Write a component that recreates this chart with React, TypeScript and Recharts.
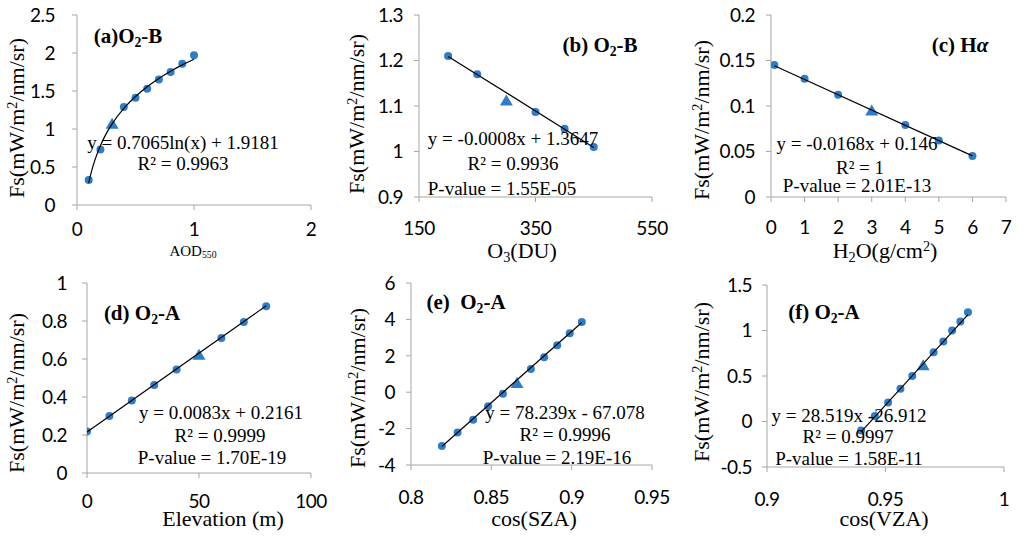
import React from 'react';
import { ScatterChart, Scatter, XAxis, YAxis } from 'recharts';

// ---------- data ----------
// (a) AOD550
const aodValues = [0.1, 0.2, 0.4, 0.5, 0.6, 0.7, 0.8, 0.9, 1.0];
const aodFs = [0.33, 0.73, 1.29, 1.41, 1.53, 1.65, 1.75, 1.86, 1.97];
const aodBase = { x: 0.3, y: 1.07 };
const aodTrendX = [0.1, 0.12, 0.15, 0.2, 0.25, 0.3, 0.4, 0.5, 0.6, 0.7, 0.8, 0.9, 1.0];
const aodTrendY = [0.291, 0.42, 0.578, 0.781, 0.939, 1.068, 1.271, 1.428, 1.557, 1.666, 1.76, 1.844, 1.918];
const aodXTicks = [0, 1, 2];
const aodYTicks = [0, 0.5, 1, 1.5, 2, 2.5];

// (b) O3
const o3Values = [200, 250, 350, 400, 450];
const o3Fs = [1.21, 1.17, 1.087, 1.05, 1.01];
const o3Base = { x: 300, y: 1.112 };
const o3TrendX = [200, 450];
const o3TrendY = [1.209, 1.009];
const o3XTicks = [150, 350, 550];
const o3YTicks = [0.9, 1, 1.1, 1.2, 1.3];

// (c) H2O
const h2oValues = [0.1, 1, 2, 4, 5, 6];
const h2oFs = [0.145, 0.13, 0.1125, 0.079, 0.062, 0.045];
const h2oBase = { x: 3, y: 0.095 };
const h2oTrendX = [0.1, 6];
const h2oTrendY = [0.1443, 0.0452];
const h2oXTicks = [0, 1, 2, 3, 4, 5, 6, 7];
const h2oYTicks = [0, 0.05, 0.1, 0.15, 0.2];

// (d) Elevation
const elevValues = [0, 10, 20, 30, 40, 60, 70, 80];
const elevFs = [0.218, 0.3, 0.381, 0.463, 0.545, 0.711, 0.795, 0.878];
const elevBase = { x: 50, y: 0.622 };
const elevTrendX = [0, 80];
const elevTrendY = [0.216, 0.88];
const elevXTicks = [0, 50, 100];
const elevYTicks = [0, 0.2, 0.4, 0.6, 0.8, 1];

// (e) cos(SZA)
const szaValues = [0.8192, 0.829, 0.8387, 0.848, 0.8572, 0.8746, 0.8829, 0.891, 0.8988, 0.9063];
const szaFs = [-2.96, -2.21, -1.52, -0.77, -0.09, 1.28, 1.92, 2.58, 3.24, 3.86];
const szaBase = { x: 0.866, y: 0.51 };
const szaTrendX = [0.8192, 0.9063];
const szaTrendY = [-2.985, 3.83];
const szaXTicks = [0.8, 0.85, 0.9, 0.95];
const szaYTicks = [-4, -2, 0, 2, 4, 6];

// (f) cos(VZA)
const vzaValues = [0.9397, 0.9455, 0.9511, 0.9563, 0.9613, 0.9703, 0.9744, 0.9781, 0.9816, 0.9848];
const vzaFs = [-0.1, 0.06, 0.21, 0.36, 0.5, 0.76, 0.88, 1.0, 1.1, 1.2];
const vzaBase = { x: 0.9659, y: 0.617 };
const vzaTrendX = [0.9397, 0.9848];
const vzaTrendY = [-0.113, 1.174];
const vzaXTicks = [0.9, 0.95, 1];
const vzaYTicks = [-0.5, 0, 0.5, 1, 1.5];

// ---------- styles ----------
const BLUE = '#2E7EC6';
const AXIS = '#A6A6A6';
const SERIF = '"Liberation Serif", "Times New Roman", serif';
const SANS = 'Lato, "Open Sans", sans-serif';

const zip = (xs: number[], ys: number[]) => xs.map((x, i) => ({ x, y: ys[i] }));

const CircleShape = (p: any) => <circle cx={p.cx} cy={p.cy} r={4} fill={BLUE} />;
const TriShape = (p: any) => (
  <polygon
    points={`${p.cx},${p.cy - 6} ${p.cx - 6.5},${p.cy + 5} ${p.cx + 6.5},${p.cy + 5}`}
    fill={BLUE}
  />
);
const EmptyShape = () => <g />;

type Rect = { x0: number; x1: number; y0: number; y1: number };

function Panel(props: {
  rect: Rect;
  xDomain: [number, number];
  yDomain: [number, number];
  xTicks: number[];
  yTicks: number[];
  circles: { x: number; y: number }[];
  triangle: { x: number; y: number };
  trend: { x: number; y: number }[];
  xGap: number;
  yGap: number;
  curved?: boolean;
}) {
  const { rect } = props;
  const YW = 70;
  const TOP = 20;
  const RIGHT = 30;
  const XH = 50;
  const width = rect.x1 - rect.x0 + YW + RIGHT;
  const height = rect.y1 - rect.y0 + TOP + XH;
  const tickStyle = { fill: '#000', fontSize: 19, fontFamily: SANS, letterSpacing: -0.5 };
  return (
    <div style={{ position: 'absolute', left: rect.x0 - YW, top: rect.y0 - TOP }}>
      <ScatterChart width={width} height={height} margin={{ top: TOP, right: RIGHT, bottom: 0, left: 0 }}>
        <XAxis
          type="number"
          dataKey="x"
          domain={props.xDomain}
          ticks={props.xTicks}
          interval={0}
          allowDataOverflow
          height={XH}
          axisLine={{ stroke: AXIS }}
          tickLine={{ stroke: AXIS }}
          tickSize={5}
          tickMargin={props.xGap}
          tick={tickStyle}
        />
        <YAxis
          type="number"
          dataKey="y"
          domain={props.yDomain}
          ticks={props.yTicks}
          interval={0}
          allowDataOverflow
          width={YW}
          axisLine={{ stroke: AXIS }}
          tickLine={{ stroke: AXIS }}
          tickSize={5}
          tickMargin={props.yGap}
          tick={tickStyle}
        />
        <Scatter data={props.circles} shape={CircleShape} isAnimationActive={false} />
        <Scatter data={[props.triangle]} shape={TriShape} isAnimationActive={false} />
        <Scatter
          data={props.trend}
          shape={EmptyShape}
          line={{ stroke: '#000', strokeWidth: 1.2 }}
          lineJointType={props.curved ? 'monotoneX' : 'linear'}
          isAnimationActive={false}
        />
      </ScatterChart>
    </div>
  );
}

function T(props: { x: number; y: number; size: number; bold?: boolean; rotate?: boolean; children: React.ReactNode }) {
  return (
    <div
      style={{
        position: 'absolute',
        left: props.x,
        top: props.y,
        transform: `translate(-50%, -50%)${props.rotate ? ' rotate(-90deg)' : ''}`,
        whiteSpace: 'nowrap',
        fontFamily: SERIF,
        fontSize: props.size,
        fontWeight: props.bold ? 'bold' : 'normal',
        lineHeight: 1,
        color: '#000',
      }}
    >
      {props.children}
    </div>
  );
}

const Sub = ({ c }: { c: string }) => (
  <span style={{ fontSize: '0.65em', verticalAlign: '-0.3em', lineHeight: 0 }}>{c}</span>
);
const Sup = ({ c }: { c: string }) => (
  <span style={{ fontSize: '0.65em', verticalAlign: '0.5em', lineHeight: 0 }}>{c}</span>
);

const FsTitle = () => (
  <>
    Fs(mW/m<Sup c="2" />/nm/sr)
  </>
);

export default function App() {
  const EQ = 19;
  const LBL = 21;
  const AX = 22;
  return (
    <div style={{ position: 'absolute', left: 0, top: 0, width: 1024, height: 537, background: '#fff', overflow: 'hidden' }}>
      <Panel
        rect={{ x0: 77, x1: 311, y0: 15, y1: 205 }}
        xDomain={[0, 2]}
        yDomain={[0, 2.5]}
        xTicks={aodXTicks}
        yTicks={aodYTicks}
        circles={zip(aodValues, aodFs)}
        triangle={aodBase}
        trend={zip(aodTrendX, aodTrendY)}
        xGap={13}
        yGap={17}
        curved
      />
      <Panel
        rect={{ x0: 419, x1: 652, y0: 15, y1: 197 }}
        xDomain={[150, 550]}
        yDomain={[0.9, 1.3]}
        xTicks={o3XTicks}
        yTicks={o3YTicks}
        circles={zip(o3Values, o3Fs)}
        triangle={o3Base}
        trend={zip(o3TrendX, o3TrendY)}
        xGap={20}
        yGap={11}
      />
      <Panel
        rect={{ x0: 771, x1: 1006, y0: 15, y1: 197 }}
        xDomain={[0, 7]}
        yDomain={[0, 0.2]}
        xTicks={h2oXTicks}
        yTicks={h2oYTicks}
        circles={zip(h2oValues, h2oFs)}
        triangle={h2oBase}
        trend={zip(h2oTrendX, h2oTrendY)}
        xGap={19}
        yGap={11}
      />
      <Panel
        rect={{ x0: 87, x1: 311, y0: 283, y1: 473 }}
        xDomain={[0, 100]}
        yDomain={[0, 1]}
        xTicks={elevXTicks}
        yTicks={elevYTicks}
        circles={zip(elevValues, elevFs)}
        triangle={elevBase}
        trend={zip(elevTrendX, elevTrendY)}
        xGap={17}
        yGap={15}
      />
      <Panel
        rect={{ x0: 411, x1: 652, y0: 283, y1: 465 }}
        xDomain={[0.8, 0.95]}
        yDomain={[-4, 6]}
        xTicks={szaXTicks}
        yTicks={szaYTicks}
        circles={zip(szaValues, szaFs)}
        triangle={szaBase}
        trend={zip(szaTrendX, szaTrendY)}
        xGap={21}
        yGap={11}
      />
      <Panel
        rect={{ x0: 767, x1: 1004, y0: 285, y1: 467 }}
        xDomain={[0.9, 1]}
        yDomain={[-0.5, 1.5]}
        xTicks={vzaXTicks}
        yTicks={vzaYTicks}
        circles={zip(vzaValues, vzaFs)}
        triangle={vzaBase}
        trend={zip(vzaTrendX, vzaTrendY)}
        xGap={21}
        yGap={10}
      />

      {/* y axis titles */}
      <T x={17} y={118} size={AX} rotate><FsTitle /></T>
      <T x={357} y={114} size={AX} rotate><FsTitle /></T>
      <T x={702} y={120} size={AX} rotate><FsTitle /></T>
      <T x={17} y={393} size={AX} rotate><FsTitle /></T>
      <T x={358} y={388} size={AX} rotate><FsTitle /></T>
      <T x={702} y={382} size={AX} rotate><FsTitle /></T>

      {/* x axis titles */}
      <T x={193} y={251} size={15}>AOD<Sub c="550" /></T>
      <T x={522} y={251} size={AX}>O<Sub c="3" />(DU)</T>
      <T x={885} y={251} size={AX}>H<Sub c="2" />O(g/cm<Sup c="2" />)</T>
      <T x={223} y={519} size={AX}>Elevation (m)</T>
      <T x={534} y={519} size={AX}>cos(SZA)</T>
      <T x={884} y={519} size={AX}>cos(VZA)</T>

      {/* panel labels */}
      <T x={128} y={36} size={LBL} bold>(a)O<Sub c="2" />-B</T>
      <T x={600} y={45} size={LBL} bold>(b) O<Sub c="2" />-B</T>
      <T x={960} y={45} size={LBL} bold>(c) H<i>α</i></T>
      <T x={142} y={313} size={LBL} bold>(d) O<Sub c="2" />-A</T>
      <T x={466} y={302} size={LBL} bold>(e)&nbsp;&nbsp;O<Sub c="2" />-A</T>
      <T x={824} y={312} size={LBL} bold>(f) O<Sub c="2" />-A</T>

      {/* regression texts */}
      <T x={183} y={142} size={EQ}>y = 0.7065ln(x) + 1.9181</T>
      <T x={183} y={163} size={EQ}>R² = 0.9963</T>

      <T x={513} y={138} size={EQ}>y = -0.0008x + 1.3647</T>
      <T x={513} y={163} size={EQ}>R² = 0.9936</T>
      <T x={502} y={188} size={EQ}>P-value = 1.55E-05</T>

      <T x={857} y={143} size={EQ}>y = -0.0168x + 0.146</T>
      <T x={860} y={167} size={EQ}>R² = 1</T>
      <T x={857} y={185} size={EQ}>P-value = 2.01E-13</T>

      <T x={221} y={412} size={EQ}>y = 0.0083x + 0.2161</T>
      <T x={220} y={435} size={EQ}>R² = 0.9999</T>
      <T x={212} y={457} size={EQ}>P-value = 1.70E-19</T>

      <T x={565} y={412} size={EQ}>y = 78.239x - 67.078</T>
      <T x={565} y={434} size={EQ}>R² = 0.9996</T>
      <T x={557} y={457} size={EQ}>P-value = 2.19E-16</T>

      <T x={849} y={415} size={EQ}>y = 28.519x -26.912</T>
      <T x={848} y={436} size={EQ}>R² = 0.9997</T>
      <T x={849} y={458} size={EQ}>P-value = 1.58E-11</T>
    </div>
  );
}
